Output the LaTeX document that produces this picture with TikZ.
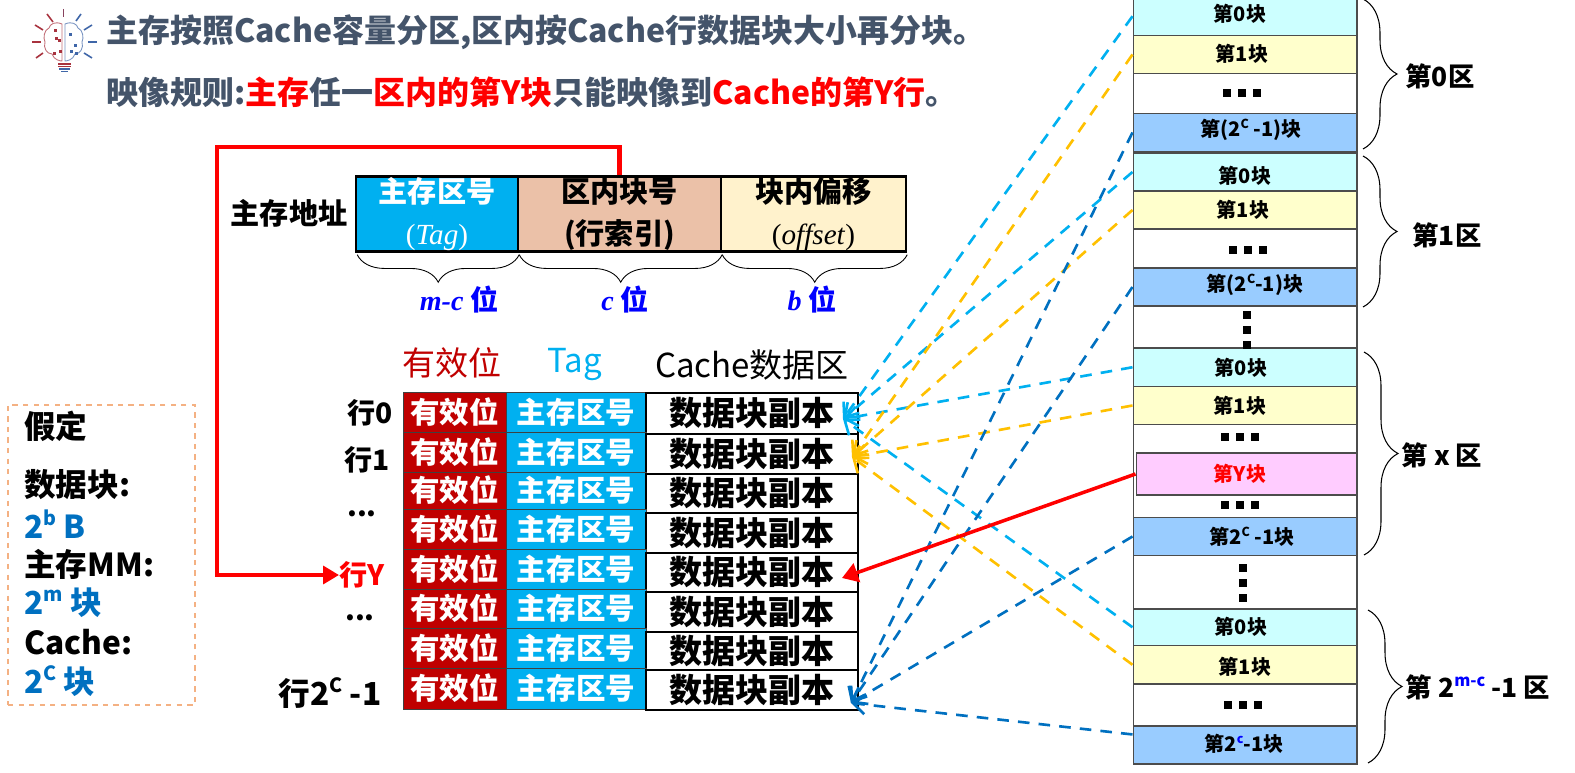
\documentclass[tikz,border=0pt]{standalone}
\usepackage{fontspec}
\setmainfont{Noto Sans CJK SC}
\newfontfamily\serifit{Liberation Serif}
\usetikzlibrary{arrows.meta,decorations.pathreplacing}
\definecolor{titlegray}{HTML}{44546A}
\definecolor{validred}{HTML}{C00000}
\definecolor{tagblue}{HTML}{00B0F0}
\definecolor{indexbrown}{HTML}{EBC1A8}
\definecolor{offsetcream}{HTML}{FFF2CC}
\definecolor{lineblue}{HTML}{0070C0}
\definecolor{lineorange}{HTML}{FFC000}
\definecolor{boxorange}{HTML}{F4B183}
\definecolor{memcyan}{HTML}{CCFFFF}
\definecolor{memyellow}{HTML}{FFFFCC}
\definecolor{memblue}{HTML}{99CCFF}
\definecolor{mempink}{HTML}{FFCCFF}
\definecolor{pureblue}{HTML}{0000FF}
\definecolor{iconred}{HTML}{A8323E}
\definecolor{iconblue}{HTML}{3F66A8}
\newcommand{\sups}[1]{\raisebox{0.42em}{\fontsize{0.62em}{0.62em}\selectfont #1}}
\tikzset{
    addrbox/.style={draw=black, line width=1.4pt, inner sep=0pt, minimum height=1.5cm, align=center, font=\fontsize{16.6}{24}\selectfont\bfseries},
    under/.style={decorate, decoration={brace, amplitude=0.55cm}, draw=black, line width=0.5pt},
    side/.style={decorate, decoration={brace, amplitude=0.68cm}, draw=black, line width=0.6pt},
    cell/.style={inner sep=0pt, font=\fontsize{16.8}{20}\selectfont\bfseries},
    memblock/.style={draw=black!70, line width=0.6pt, inner sep=0pt, minimum width=4.48cm},
    memtext/.style={inner sep=0pt, font=\fontsize{11.4}{14}\selectfont\bfseries},
    zonetext/.style={inner sep=0pt, font=\fontsize{15}{18}\selectfont\bfseries},
    rowtext/.style={inner sep=0pt, font=\fontsize{16}{20}\selectfont\bfseries},
    headtext/.style={inner sep=0pt, font=\fontsize{18.8}{22}\selectfont},
    asmtext/.style={anchor=west, inner sep=0pt, font=\fontsize{18}{22}\selectfont\bfseries},
    dashline/.style={dashed, dash pattern=on 6.6pt off 5.2pt, line width=1.5pt, -{Straight Barb[length=7pt,width=11pt]}},
    tinydot/.style={fill=black, minimum size=0.155cm, inner sep=0pt}
}
\begin{document}
\begin{tikzpicture}[x=0.02cm, y=-0.02cm]
    \useasboundingbox (0,0) rectangle (1575,773);
    % bulb icon
    \foreach \xa/\ya/\xb/\yb in {47/14/53/22, 35/25/43/30, 32/42/41/42, 36/58/43/53}
        \draw[iconred, line width=0.9pt] (\xa,\ya) -- (\xb,\yb);
    \foreach \xa/\ya/\xb/\yb in {81/14/76/21, 92/25/84/30, 97/42/88/42, 92/58/84/53}
        \draw[iconblue, line width=0.9pt] (\xa,\ya) -- (\xb,\yb);
    \draw[iconred!70!iconblue, line width=0.9pt] (63.5,9) -- (63.5,17);
    \draw[iconred!70, line width=0.5pt] (62,24) .. controls (55,21) and (50,24) .. (49,28) .. controls (44,30) and (43,38) .. (45,42) .. controls (43,48) and (47,54) .. (52,54) .. controls (54,60) and (60,61) .. (62,61) -- cycle;
    \draw[iconblue!70, line width=0.5pt] (65,24) .. controls (72,21) and (77,24) .. (78,28) .. controls (83,30) and (84,38) .. (82,42) .. controls (84,48) and (80,54) .. (75,54) .. controls (73,60) and (67,61) .. (65,61) -- cycle;
    \foreach \x/\y in {54/29, 55/37, 58/39, 53/52, 59/50}
        \fill[iconred] (\x,\y) rectangle ++(3,3);
    \foreach \x/\y in {69/33, 74/44, 70/50, 75/52}
        \fill[iconblue] (\x,\y) rectangle ++(3,3);
    \draw[iconred, line width=0.7pt] (58,64) -- (71,64);
    \draw[iconred, line width=0.7pt] (58,66.5) -- (71,66.5);
    \draw[iconblue, line width=0.7pt] (59,69) -- (70,69);
    \draw[iconblue, line width=0.7pt] (61,71.5) -- (68,71.5);
    % title
    \node[anchor=west, inner sep=0pt, text=titlegray, font=\fontsize{18.2}{22}\selectfont\bfseries] (title1) at (106,32) {主存按照Cache容量分区,区内按Cache行数据块大小再分块。};
    \node[anchor=west, inner sep=0pt, text=titlegray, font=\fontsize{18.2}{22}\selectfont\bfseries] (title2) at (106,92) {映像规则:{\color{red}主存}任一{\color{red}区内的第Y块}只能映像到{\color{red}Cache的第Y行}。};
    % main memory address
    \node[inner sep=0pt, font=\fontsize{16.6}{20}\selectfont\bfseries] (addrname) at (289,213) {主存地址};
    \node[addrbox, fill=tagblue, text=white, minimum width=3.24cm] (addrtag) at (437,214) {主存区号\\{\serifit\mdseries (\itshape Tag\/\upshape)}};
    \node[addrbox, fill=indexbrown, minimum width=4.06cm] (addrindex) at (619.5,214) {区内块号\\(行索引)};
    \node[addrbox, fill=offsetcream, minimum width=3.70cm] (addroff) at (813.5,214) {块内偏移\\{\serifit\mdseries (\itshape offset\/\upshape)}};
    \draw[under] (addrtag.south east) ++(0,2) -- ++(-162,0);
    \draw[under] (addrindex.south east) ++(0,2) -- ++(-203,0);
    \draw[under] (addroff.south east) ++(0,2) -- ++(-185,0);
    \node[inner sep=0pt, text=pureblue, font=\fontsize{16}{20}\selectfont\bfseries] (bitstag) at (459,300) {{\serifit\itshape m-c} 位};
    \node[inner sep=0pt, text=pureblue, font=\fontsize{16}{20}\selectfont\bfseries] (bitsindex) at (625,300) {{\serifit\itshape c} 位};
    \node[inner sep=0pt, text=pureblue, font=\fontsize{16}{20}\selectfont\bfseries] (bitsoff) at (812,300) {{\serifit\itshape b} 位};
    % cache table
    \node[headtext, text=validred] (headvalid) at (452,363) {有效位};
    \node[headtext, text=tagblue] (headtag) at (575,365) {Tag};
    \node[headtext] (headdata) at (752,365) {Cache数据区};
    \foreach \i/\ta/\ba/\tb/\bb in {0/392/432/393/434, 1/432/472/434/474, 2/472/509/474/513, 3/509/549/513/553, 4/549/589/553/592, 5/589/628/592/632, 6/628/668/632/670, 7/668/709/670/710}{
        \node[cell, draw=black!75, fill=validred, text=white, minimum width=2.06cm, minimum height={(\ba-\ta)*0.02cm}] (valid\i) at (454.5,{(\ta+\ba)/2}) {有效位};
        \node[cell, draw=black!75, fill=tagblue, text=white, minimum width=2.8cm, minimum height={(\ba-\ta)*0.02cm}] (tag\i) at (576,{(\ta+\ba)/2}) {主存区号};
        \node[cell, draw=black, line width=0.7pt, minimum width=4.24cm, minimum height={(\bb-\tb)*0.02cm}, font=\fontsize{18.8}{22}\selectfont\bfseries] (data\i) at (752,{(\tb+\bb)/2}) {数据块副本};
    }
    \node[rowtext] (row0) at (370,413) {行0};
    \node[rowtext] (row1) at (367,460) {行1};
    \node[rowtext] (rowdots1) at (362,514) {...};
    \node[rowtext, text=red] (rowY) at (362,575) {行Y};
    \node[rowtext] (rowdots2) at (360,618) {...};
    \node[rowtext, font=\fontsize{18}{20}\selectfont\bfseries] (rowlast) at (330,693) {行2\sups{C} -1};
    % assumptions
    \node[draw=boxorange, dashed, line width=1.3pt, minimum width=3.74cm, minimum height=6cm, inner sep=0pt] (asmbox) at (101.5,555) {};
    \node[asmtext] (asm0) at (24,426) {假定};
    \node[asmtext] (asm1) at (24,485) {数据块:};
    \node[asmtext, text=lineblue] (asm2) at (24,524) {2\sups{b} B};
    \node[asmtext] (asm3) at (24,564) {主存MM:};
    \node[asmtext, text=lineblue] (asm4) at (24,603) {2\sups{m} 块};
    \node[asmtext] (asm5) at (24,642) {Cache:};
    \node[asmtext, text=lineblue] (asm6) at (24,681) {2\sups{C} 块};
    % main memory blocks
    \foreach \n/\ta/\ba/\col in {z0b0/-3/35.5/memcyan, z0b1/35.5/73.5/memyellow, z0d/73.5/113.5/white, z0bL/113.5/151.5/memblue,
                                 z1b0/153/191/memcyan, z1b1/191/229/memyellow, z1d/229/268/white, z1bL/268/306/memblue, z1v/306/348/white,
                                 zxb0/348/386.5/memcyan, zxb1/386.5/424.5/memyellow, zxd/424.5/517.5/white, zxbL/517.5/555.5/memblue, zxv/555.5/609/white,
                                 zlb0/609/645.5/memcyan, zlb1/645.5/684/memyellow, zld/684/726/white, zlbL/726/764/memblue}
        \node[memblock, fill=\col, minimum height={(\ba-\ta)*0.02cm}] (\n) at (1245,{(\ta+\ba)/2}) {};
    \node[memblock, fill=mempink, minimum width=4.42cm, minimum height=0.84cm] (zxbY) at (1246.5,474) {};
    \node[memtext] at (1240,14) {第0块};
    \node[memtext] at (1242,54) {第1块};
    \node[memtext] at (1251,130) {第(2\sups{C} -1)块};
    \node[memtext] at (1245,176) {第0块};
    \node[memtext] at (1243,210) {第1块};
    \node[memtext] at (1255,285) {第(2\sups{C}-1)块};
    \node[memtext] at (1241,368) {第0块};
    \node[memtext] at (1240,406) {第1块};
    \node[memtext, text=red] at (1240,474) {第Y块};
    \node[memtext] at (1252,537) {第2\sups{C} -1块};
    \node[memtext] at (1241,627) {第0块};
    \node[memtext] at (1245,667) {第1块};
    \node[memtext] at (1244,744) {第2{\color{pureblue}\sups{c}}-1块};
    \foreach \x/\y in {1227/93, 1242/93, 1257/93, 1233/250, 1248/250, 1263/250, 1247/315, 1247/330, 1247/345, 1225/437, 1240/437, 1255/437, 1225/505, 1240/505, 1255/505, 1243/568, 1243/583, 1243/598, 1228/705, 1243/705, 1258/705}
        \node[tinydot] at (\x,\y) {};
    % zones
    \draw[side] (1363,-1) -- (1363,149);
    \draw[side] (1363,156) -- (1363,307);
    \draw[side] (1364,352) -- (1364,555);
    \draw[side] (1368,610) -- (1368,763);
    \node[zonetext] (zone0) at (1440,76) {第0区};
    \node[zonetext] (zone1) at (1447,235) {第1区};
    \node[zonetext] (zonex) at (1442,455) {第 x 区};
    \node[zonetext] (zonel) at (1478,687) {第 2{\color{pureblue}\sups{m-c}} -1 区};
    % arrow ends
    \coordinate (tip0) at (843,419);
    \coordinate (tip1) at (852,457);
    \coordinate (tip7) at (851,703);
    \coordinate (tipY) at (842,578);
    \coordinate (bend) at (217,147);
    \foreach \n in {z0b0, z1b0, zxb0, zlb0}
        \draw[dashline, tagblue] (\n.west) -- (tip0);
    \foreach \n in {z0b1, z1b1, zxb1, zlb1}
        \draw[dashline, lineorange] (\n.west) -- (tip1);
    \foreach \n in {z0bL, z1bL, zxbL}
        \draw[dashline, lineblue] (\n.west) -- (tip7);
    \draw[dashline, lineblue] ([yshift=6pt]zlbL.west) -- (tip7);
    \draw[red, line width=2pt, -{Triangle[length=9pt,width=11pt]}] (zxbY.west) -- (tipY);
    \draw[red, line width=2.8pt, -{Triangle[length=9pt,width=10pt]}] (addrindex.north) |- (bend) |- (rowY.west);
\end{tikzpicture}
\end{document}
